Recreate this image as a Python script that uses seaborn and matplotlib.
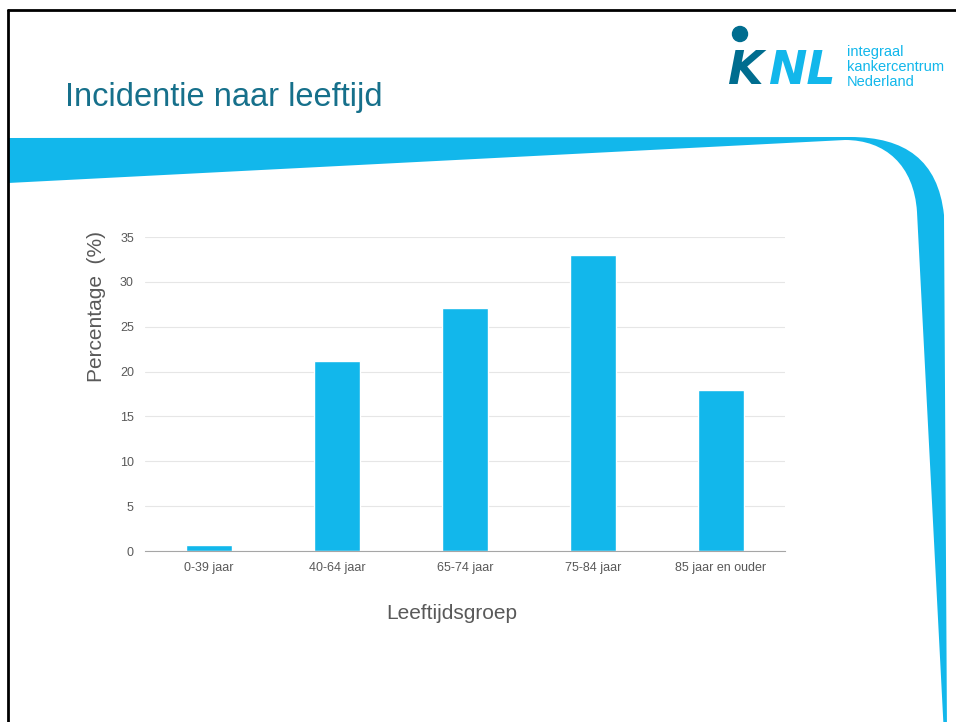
import numpy as np
import pandas as pd
import seaborn as sns
import matplotlib
matplotlib.use("Agg")
import matplotlib.pyplot as plt
from matplotlib.path import Path
from matplotlib.patches import PathPatch, Circle
from matplotlib.lines import Line2D
import matplotlib.transforms as mtransforms

# ---- data ----
categories = ["0-39 jaar", "40-64 jaar", "65-74 jaar", "75-84 jaar", "85 jaar en ouder"]
percentages = [0.7, 21.2, 27.1, 33.0, 17.9]
y_ticks = [0, 5, 10, 15, 20, 25, 30, 35]
title = "Incidentie naar leeftijd"
x_label = "Leeftijdsgroep"
y_label = "Percentage  (%)"
logo_lines = ["integraal", "kankercentrum", "Nederland"]

W, H = 956, 722
BLUE = "#12b7eb"
TEAL = "#16708b"
DARK = "#006d8f"
GREY = "#595959"

sns.set_style("white")
plt.rcParams['font.family'] = ['Liberation Sans', 'DejaVu Sans']

fig = plt.figure(figsize=(W / 100, H / 100), dpi=100)
px = mtransforms.Affine2D().scale(1 / W, -1 / H).translate(0, 1) + fig.transFigure


def fx(x):
    return x / W


def fy(y):
    return 1 - y / H


# ---- slide decorations ----
verts = [(8, 138), (850, 137), (905, 137), (938, 160), (944, 215),
         (947, 735), (944, 735), (917, 212), (914, 165), (885, 140), (845, 140),
         (8, 183), (8, 138)]
codes = [Path.MOVETO, Path.LINETO, Path.CURVE4, Path.CURVE4, Path.CURVE4,
         Path.LINETO, Path.LINETO, Path.LINETO, Path.CURVE4, Path.CURVE4, Path.CURVE4,
         Path.LINETO, Path.CLOSEPOLY]
fig.add_artist(PathPatch(Path(verts, codes), facecolor=BLUE, edgecolor="none", transform=px))

fig.add_artist(Line2D([8, 960], [10, 10], color="black", lw=2, transform=px))
fig.add_artist(Line2D([8, 8], [10, 730], color="black", lw=2, transform=px))

fig.text(fx(65), fy(106), title, fontsize=23.5, color=TEAL, va="baseline", ha="left")

# logo
fig.add_artist(Circle((740, 34), 7.5, color=DARK, transform=px))
fig.text(fx(727), fy(84), "K", fontsize=33, color=DARK, fontweight="bold",
         fontstyle="italic", family="DejaVu Sans", va="baseline", ha="left")
fig.text(fx(768), fy(84), "NL", fontsize=33, color=BLUE, fontweight="bold",
         fontstyle="italic", family="DejaVu Sans", va="baseline", ha="left")
for i, line in enumerate(logo_lines):
    fig.text(fx(847), fy(52 + 15 * i), line, fontsize=10.5, color=BLUE,
             va="center", ha="left")

# ---- chart ----
ax = fig.add_axes([fx(145), fy(551), (785 - 145) / W, (551 - 237) / H])
df = pd.DataFrame({"Leeftijdsgroep": categories, "Percentage": percentages})
sns.barplot(data=df, x="Leeftijdsgroep", y="Percentage", color=BLUE, width=0.36,
            saturation=1, errorbar=None, ax=ax)

ax.set_xlim(-0.5, len(categories) - 0.5)
ax.set_ylim(0, 35)
ax.set_yticks(y_ticks)
ax.set_yticklabels([str(t) for t in y_ticks])
ax.yaxis.grid(True, color="#e6e6e6", lw=0.8)
ax.set_axisbelow(True)
for s in ["top", "right", "left"]:
    ax.spines[s].set_visible(False)
ax.spines["bottom"].set_color("#a6a6a6")
ax.spines["bottom"].set_linewidth(0.8)

ax.tick_params(axis="y", length=0, pad=8, labelsize=9, labelcolor=GREY)
ax.tick_params(axis="x", which="major", length=0, pad=8, labelsize=9, labelcolor=GREY)
ax.set_xticks([i - 0.5 for i in range(len(categories) + 1)], minor=True)
ax.tick_params(axis="x", which="minor", length=5, color="#a6a6a6", width=0.8, direction="out")

ax.set_xlabel(x_label, fontsize=15, color=GREY)
ax.set_ylabel(y_label, fontsize=15, color=GREY)
ax.xaxis.set_label_coords(0.48, -0.17)
ax.yaxis.set_label_coords(-0.061, 0.78)

fig.savefig("out.png", dpi=100)
